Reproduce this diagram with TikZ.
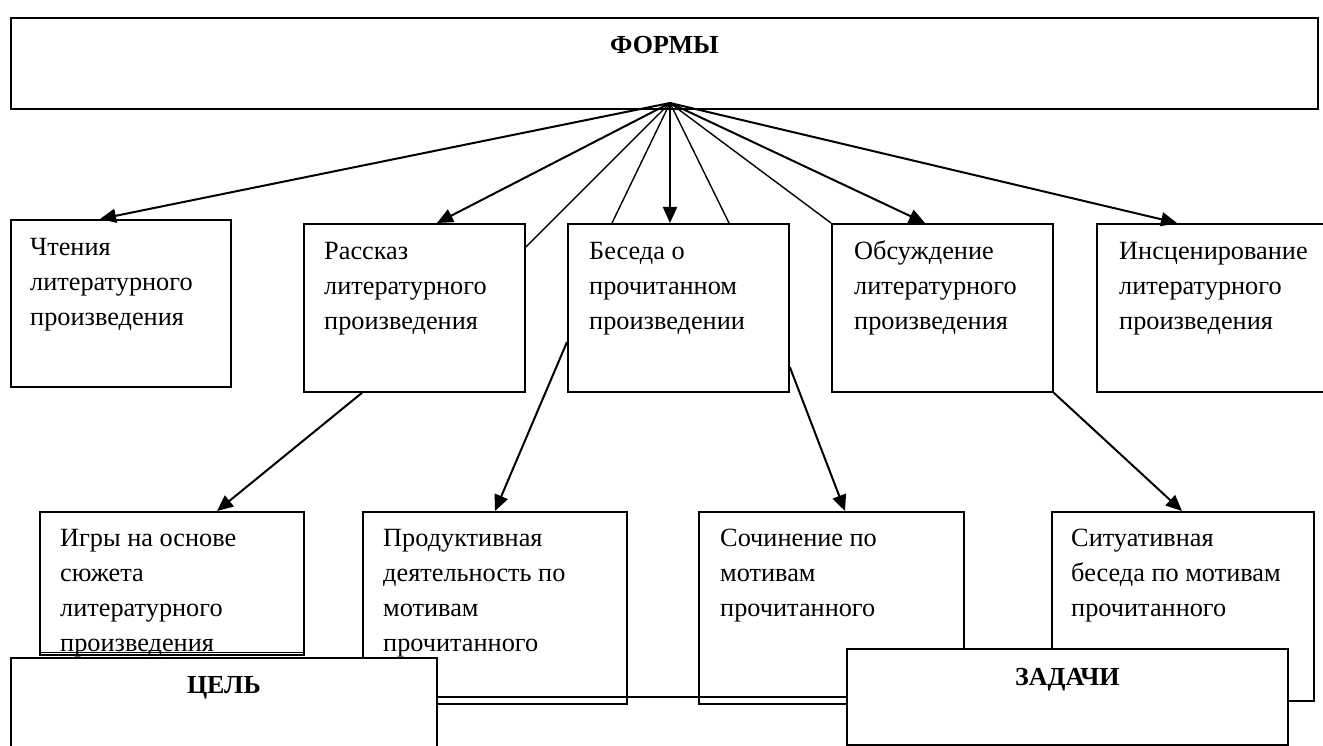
\documentclass[tikz,border=0pt]{standalone}
\usepackage{fontspec}
\setmainfont{Liberation Serif}
\usetikzlibrary{arrows.meta}
\tikzset{
  box/.style={draw, line width=1.8pt, inner sep=0pt, anchor=north west, fill=white},
  txt/.style={inner sep=0pt, anchor=north west, align=left, font=\fontsize{26.3}{35}\selectfont},
  ttl/.style={inner sep=0pt, anchor=north, font=\fontsize{26}{35}\selectfont\bfseries},
  arr/.style={line width=2pt, -{Triangle[length=16pt,width=14pt]}},
  thin/.style={line width=1.4pt}
}
\begin{document}
\begin{tikzpicture}[x=1pt,y=-1pt]
\useasboundingbox (0,0) rectangle (1323,746);
% top box
\node[box, minimum width=1307pt, minimum height=91pt] (forms) at (10,17) {};
\node[ttl] (formsT) at ([yshift=-19pt]forms.north) {ФОРМЫ};
\coordinate (apex) at (670,103);
% middle row
\node[box, minimum width=220pt, minimum height=167pt] (chten) at (10,219) {};
\node[box, minimum width=221pt, minimum height=168pt] (rass) at (303,223) {};
\node[box, minimum width=221pt, minimum height=168pt] (bes) at (567,223) {};
\node[box, minimum width=221pt, minimum height=168pt] (obs) at (831,223) {};
\node[box, minimum width=240pt, minimum height=168pt] (insc) at (1096,223) {};
\node[txt] (chtenT) at ([xshift=20pt,yshift=-12pt]chten.north west) {\strut Чтения\\литературного\\произведения};
\node[txt] (rassT) at ([xshift=21pt,yshift=-12pt]rass.north west) {\strut Рассказ\\литературного\\произведения};
\node[txt] (besT) at ([xshift=22pt,yshift=-12pt]bes.north west) {\strut Беседа о\\прочитанном\\произведении};
\node[txt] (obsT) at ([xshift=23pt,yshift=-12pt]obs.north west) {\strut Обсуждение\\литературного\\произведения};
\node[txt] (inscT) at ([xshift=23pt,yshift=-12pt]insc.north west) {\strut Инсценирование\\литературного\\произведения};
% fan
\draw[arr] (apex) -- ([xshift=90pt]chten.north west);
\draw[arr] (apex) -- ([xshift=134pt]rass.north west);
\draw[thin] (apex) -- ([yshift=-24pt]rass.north east);
\draw[thin] (apex) -- ([xshift=45pt]bes.north west);
\draw[arr] (apex) -- (apex |- bes.north);
\draw[thin] (apex) -- ([xshift=162pt]bes.north west);
\draw[thin] (apex) -- (obs.north west);
\draw[arr] (apex) -- ([xshift=94pt]obs.north west);
\draw[arr] (apex) -- ([xshift=81pt]insc.north west);
% bottom row
\node[box, minimum width=264pt, minimum height=143pt] (igry) at (39,511) {};
\node[box, minimum width=264pt, minimum height=192pt] (prod) at (362,511) {};
\node[box, minimum width=265pt, minimum height=192pt] (soch) at (698,511) {};
\node[box, minimum width=262pt, minimum height=189pt] (situ) at (1051,511) {};
\draw[line width=1pt] ([yshift=3pt]igry.south west) -- ([yshift=3pt]igry.south east);
\node[txt] (igryT) at ([xshift=21pt,yshift=-11pt]igry.north west) {\strut Игры на основе\\сюжета\\литературного\\произведения};
\node[txt] (prodT) at ([xshift=21pt,yshift=-11pt]prod.north west) {\strut Продуктивная\\деятельность по\\мотивам\\прочитанного};
\node[txt] (sochT) at ([xshift=22pt,yshift=-11pt]soch.north west) {\strut Сочинение по\\мотивам\\прочитанного};
\node[txt] (situT) at ([xshift=20pt,yshift=-11pt]situ.north west) {\strut Ситуативная\\беседа по мотивам\\прочитанного};
% lower connectors
\draw[arr] ([xshift=59pt]rass.south west) -- ([xshift=178pt]igry.north west);
\draw[arr] ([yshift=-119pt]bes.north west) -- ([xshift=133pt]prod.north west);
\draw[arr] ([yshift=-144pt]bes.north east) -- ([xshift=147pt]soch.north west);
\draw[arr] (obs.south east) -- ([xshift=131pt]situ.north west);
% goal and tasks
\node[box, minimum width=441pt, minimum height=96pt] (zad) at (846,648) {};
\node[box, minimum width=426pt, minimum height=95pt] (cel) at (10,657) {};
\draw[thin] (zad.west) -- (zad.west -| cel.east);
\node[ttl] (celT) at ([yshift=-19pt]cel.north) {ЦЕЛЬ};
\node[ttl] (zadT) at ([yshift=-20pt]zad.north) {ЗАДАЧИ};
\end{tikzpicture}
\end{document}
